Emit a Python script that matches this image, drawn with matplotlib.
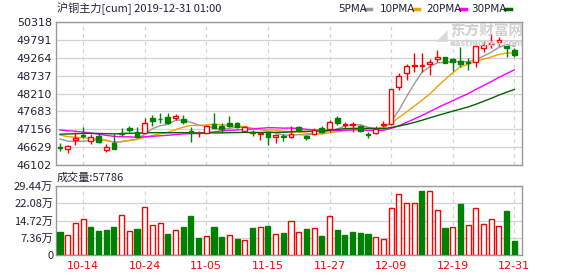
import matplotlib
matplotlib.use("Agg")
import matplotlib.pyplot as plt
import numpy as np

plt.rcParams['font.family'] = ['Noto Sans CJK SC', 'DejaVu Sans']

# ---------------- data ----------------
dates = ["10-09", "10-10", "10-11", "10-14", "10-15", "10-16", "10-17", "10-18", "10-21", "10-22",
         "10-23", "10-24", "10-25", "10-28", "10-29", "10-30", "10-31", "11-01", "11-04", "11-05",
         "11-06", "11-07", "11-08", "11-11", "11-12", "11-13", "11-14", "11-15", "11-18", "11-19",
         "11-20", "11-21", "11-22", "11-25", "11-26", "11-27", "11-28", "11-29", "12-02", "12-03",
         "12-04", "12-05", "12-06", "12-09", "12-10", "12-11", "12-12", "12-13", "12-16", "12-17",
         "12-18", "12-19", "12-20", "12-23", "12-24", "12-25", "12-26", "12-27", "12-30", "12-31"]
tick_dates = ["10-14", "10-24", "11-05", "11-15", "11-27", "12-09", "12-19", "12-31"]

opens = [46625, 46583, 46839, 46995, 46818, 46966, 46553, 46759, 47045, 47203,
         47075, 47056, 47491, 47468, 47508, 47481, 47449, 47095, 47035, 47056,
         47301, 47262, 47351, 47351, 47114, 47070, 47010, 47045, 46918, 46966,
         46918, 47213, 46946, 47016, 47203, 47154, 47498, 47280, 47270, 47252,
         47005, 47045, 47272, 47320, 48401, 48800, 49012, 49010, 49090, 49218,
         49278, 49218, 49168, 49150, 49148, 49541, 49678, 49727, 49609, 49491]
highs = [46742, 46700, 47066, 47213, 47007, 47007, 46721, 47007, 47193, 47252,
         47213, 47481, 47589, 47648, 47628, 47599, 47576, 47213, 47104, 47292,
         47648, 47334, 47555, 47380, 47250, 47134, 47050, 47084, 47007, 47007,
         47262, 47262, 46986, 47203, 47252, 47424, 47540, 47360, 47380, 47280,
         47075, 47252, 47390, 48352, 48814, 49090, 49412, 49412, 49236, 49491,
         49294, 49247, 49590, 49247, 49688, 49766, 50002, 49884, 49639, 49541]
lows = [46515, 46465, 46692, 46889, 46730, 46760, 46494, 46583, 46957, 47084,
        46936, 47035, 47265, 47334, 47314, 47428, 47310, 46789, 46936, 47040,
        47180, 47035, 47232, 47183, 47090, 46966, 46839, 46692, 46759, 46800,
        46898, 47084, 46839, 46986, 47056, 47084, 47282, 47183, 47066, 47070,
        46898, 47025, 47223, 47272, 48323, 48620, 48853, 48850, 48745, 49147,
        49100, 48873, 49000, 48900, 49000, 49442, 49540, 49609, 49277, 49294]
closes = [46615, 46671, 46907, 46960, 46918, 46771, 46624, 46583, 47030, 47143,
          46936, 47351, 47408, 47455, 47351, 47547, 47370, 47080, 47045, 47252,
          47193, 47173, 47252, 47213, 47220, 47035, 47045, 46936, 46986, 46918,
          47007, 47134, 46889, 47124, 47084, 47380, 47351, 47310, 47300, 47114,
          46995, 47173, 47320, 48334, 48725, 49025, 49060, 49040, 49139, 49294,
          49118, 49148, 49070, 49100, 49609, 49639, 49707, 49786, 49541, 49344]
# closes of the 29 sessions before the window (needed for the moving averages)
prior_closes = [46500, 46620, 46700, 46850, 46900, 46800, 46750, 46780, 46820, 46900,
                47100, 47250, 47400, 47500, 47450, 47300, 47200, 47250, 47180, 47190,
                47150, 47080, 47120, 47060, 47100, 47000, 46950, 46900, 46885]
volumes = [10.0, 8.6, 13.7, 15.4, 12.0, 10.3, 10.7, 12.0, 17.0, 10.3,
           11.2, 20.4, 12.7, 13.6, 9.0, 10.7, 12.0, 16.7, 7.4, 8.2,
           12.0, 7.8, 8.5, 6.9, 6.5, 11.6, 12.0, 12.4, 9.0, 9.5,
           14.6, 9.9, 11.2, 11.5, 8.2, 16.7, 10.7, 8.6, 9.9, 9.5,
           9.0, 7.8, 6.9, 20.1, 26.0, 22.2, 22.2, 27.3, 27.3, 19.2,
           11.6, 12.0, 21.8, 12.9, 20.1, 13.3, 15.4, 12.4, 18.8, 5.7786]  # 万
price_ticks = [46102, 46629, 47156, 47683, 48210, 48737, 49264, 49791, 50318]
vol_ticks = [0, 7.36, 14.72, 22.08, 29.44]
vol_tick_labels = ["0", "7.36万", "14.72万", "22.08万", "29.44万"]
ma_periods = [5, 10, 20, 30]
ma_names = ["5PMA", "10PMA", "20PMA", "30PMA"]
title_text = "沪铜主力[cum] 2019-12-31 01:00"
vol_title = "成交量:57786"

# ---------------- styles ----------------
RED = "#ff0000"
GREEN = "#008000"
ma_colors = ["#999999", "#f5a000", "#ff00ff", "#006400"]
GRID = "#d3d3d3"
FRAME = "#999999"
TXT = "#222233"

W, H = 578, 276
fig = plt.figure(figsize=(W / 100, H / 100), dpi=100)
axp = fig.add_axes([56 / W, 1 - 165 / H, 466 / W, 143 / H])
axv = fig.add_axes([56 / W, 1 - 255 / H, 466 / W, 69 / H])

n = len(closes)
x = np.arange(n)
xl = (-0.52, n - 0.0)

# ---- price panel ----
for i in range(n):
    up = closes[i] >= opens[i]
    col = RED if up else GREEN
    lo_b, hi_b = min(opens[i], closes[i]), max(opens[i], closes[i])
    axp.vlines(x[i], lows[i], highs[i], color=col, lw=1.0, zorder=3)
    hgt = max(hi_b - lo_b, 8)
    axp.bar(x[i], hgt, bottom=lo_b, width=0.62,
            facecolor="white" if up else GREEN, edgecolor=col, lw=1.0, zorder=4)

allc = np.array(prior_closes + closes, dtype=float)
off = len(prior_closes)
for p, c in zip(ma_periods, ma_colors):
    ma = np.array([allc[off + i - p + 1: off + i + 1].mean() for i in range(n)])
    axp.plot(x, ma, color=c, lw=1.0, zorder=2)

axp.set_xlim(*xl)
axp.set_ylim(price_ticks[0], price_ticks[-1])
axp.set_yticks(price_ticks)
axp.set_yticklabels([str(t) for t in price_ticks], fontsize=8, color=TXT,
                    family=["DejaVu Sans"])
tick_pos = [dates.index(d) for d in tick_dates]
axp.set_xticks(tick_pos)
axp.set_xticklabels([])
axp.tick_params(length=0, pad=3)
axp.grid(axis="y", color=GRID, lw=0.9, ls="-")
for tp in tick_pos:
    axp.axvline(tp, color=GRID, lw=0.9, ls=(0, (3, 3)), zorder=1)
for s in axp.spines.values():
    s.set_color(FRAME)
    s.set_linewidth(1.0)

# watermark
fig.text(487 / W, 1 - 31 / H, "东方财富网", fontsize=10.5, color="#d0d0d0",
         va="center", ha="center", fontweight="bold")
fig.text(487 / W, 1 - 44 / H, "eastmoney.com", fontsize=6, color="#d0d0d0",
         va="center", ha="center", fontweight="bold", family=["DejaVu Sans"])
fig.text(442 / W, 1 - 36 / H, "◢", fontsize=11, color="#d8d8d8", va="center",
         ha="center", family=["DejaVu Sans"])

# title & legend
fig.text(57 / W, 1 - 9 / H, title_text, fontsize=8, color=TXT, va="center", ha="left")
leg_x = [338, 380, 426, 471]
dash_x = [365, 413, 460, 505]
for name, lx, dx, c in zip(ma_names, leg_x, dash_x, ma_colors):
    fig.text(lx / W, 1 - 9 / H, name, fontsize=7.5, color=TXT, va="center", ha="left",
             family=["DejaVu Sans"])
    fig.add_artist(plt.Line2D([dx / W, (dx + 6) / W], [1 - 9 / H, 1 - 9 / H],
                              color=c, lw=2.5, transform=fig.transFigure))

# ---- volume panel ----
prev = [prior_closes[-1]] + closes[:-1]
for i in range(n):
    up = closes[i] > prev[i]
    col = RED if up else GREEN
    axv.bar(x[i], volumes[i], width=0.66, facecolor="white" if up else GREEN,
            edgecolor=col, lw=1.0, zorder=3)
axv.set_xlim(*xl)
axv.set_ylim(0, vol_ticks[-1])
axv.set_yticks(vol_ticks)
axv.set_yticklabels(vol_tick_labels, fontsize=8, color=TXT)
axv.set_xticks(tick_pos)
axv.set_xticklabels(tick_dates, fontsize=8, color=RED, family=["DejaVu Sans"])
axv.tick_params(length=0, pad=4)
axv.tick_params(axis="y", pad=2)
axv.grid(axis="y", color=GRID, lw=0.9, ls="-")
for tp in tick_pos:
    axv.axvline(tp, color=GRID, lw=0.9, ls=(0, (3, 3)), zorder=1)
for s in axv.spines.values():
    s.set_color(FRAME)
    s.set_linewidth(1.0)
fig.text(57 / W, 1 - 178 / H, vol_title, fontsize=8, color=TXT, va="center", ha="left")

fig.savefig("out.png", dpi=100)
